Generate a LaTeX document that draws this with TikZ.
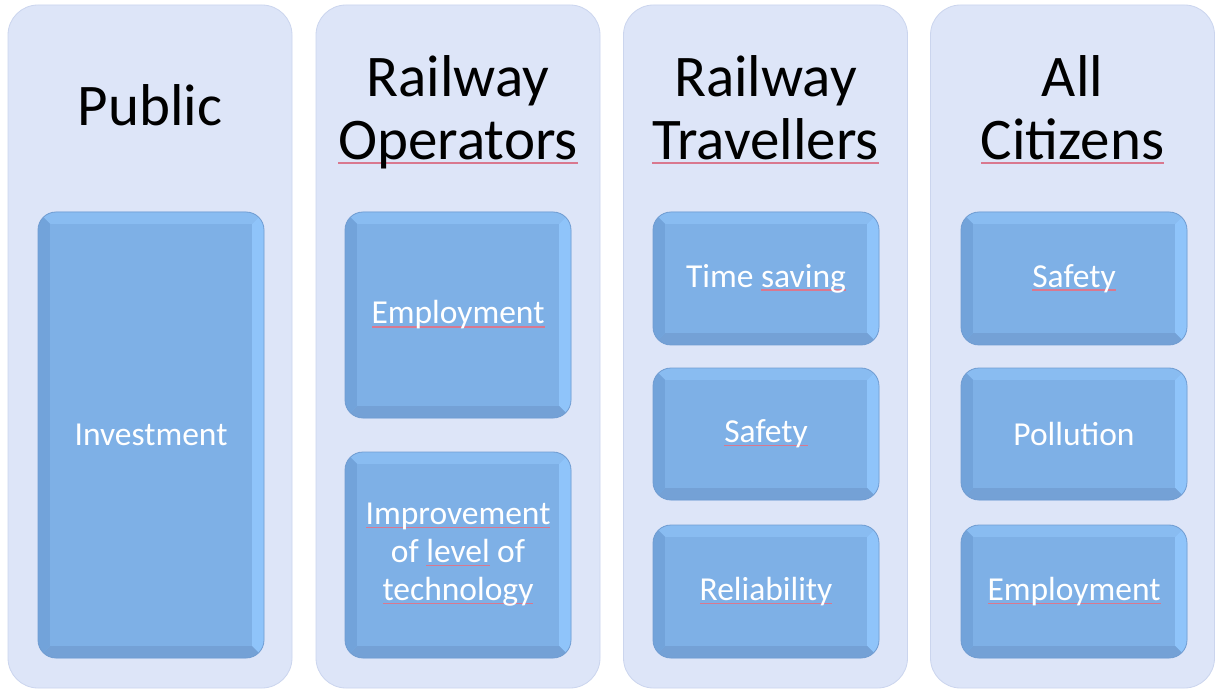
\documentclass[tikz,border=0pt]{standalone}
\usepackage{fontspec}
\setmainfont{Carlito}
\usetikzlibrary{calc}
\definecolor{outerfill}{HTML}{DDE5F8}
\definecolor{outerline}{HTML}{CBD5EE}
\definecolor{itemfill}{HTML}{7EB0E6}
\definecolor{itemline}{HTML}{719DD2}
\definecolor{bevtop}{HTML}{89BCF1}
\definecolor{bevright}{HTML}{8FC4FA}
\definecolor{bevbottom}{HTML}{74A1D6}
\definecolor{bevleft}{HTML}{72A3DA}
\makeatletter
\newcommand\mysq[1]{\setbox0\hbox{#1}%
  \edef\sqw{\strip@pt\dimexpr\wd0*7200/7227\relax}%
  \special{pdf:content 0.85 0.47 0.56 rg 0 -3.6 \sqw\space 1.5 re f}\box0\relax}
\makeatother
\tikzset{
  colbox/.style={fill=outerfill, draw=outerline, line width=0.8pt, rounded corners=30pt,
    minimum width=284pt, minimum height=683pt, inner sep=0pt},
  title/.style={font=\fontsize{59}{63}\selectfont, align=center, text=black, inner sep=0pt},
  itembox/.style={fill=itemfill, draw=itemline, line width=0.8pt, rounded corners=18pt,
    minimum width=226pt, inner sep=0pt, text=white, font=\fontsize{33.5}{38}\selectfont, align=center,
    path picture={
      \fill[bevtop, sharp corners] (path picture bounding box.north west) -- (path picture bounding box.north east)
        -- ++(-12pt,-12pt) -- ($(path picture bounding box.north west)+(12pt,-12pt)$) -- cycle;
      \fill[bevright, sharp corners] (path picture bounding box.north east) -- (path picture bounding box.south east)
        -- ++(-12pt,12pt) -- ($(path picture bounding box.north east)+(-12pt,-12pt)$) -- cycle;
      \fill[bevbottom, sharp corners] (path picture bounding box.south east) -- (path picture bounding box.south west)
        -- ++(12pt,12pt) -- ($(path picture bounding box.south east)+(-12pt,12pt)$) -- cycle;
      \fill[bevleft, sharp corners] (path picture bounding box.south west) -- (path picture bounding box.north west)
        -- ++(12pt,-12pt) -- ($(path picture bounding box.south west)+(12pt,12pt)$) -- cycle;
      \fill[itemfill, sharp corners] ($(path picture bounding box.south west)+(12pt,12pt)$) rectangle
        ($(path picture bounding box.north east)+(-12pt,-12pt)$);
    }},
}
\begin{document}
\begin{tikzpicture}[x=1pt,y=1pt]
\useasboundingbox (0,0) rectangle (1215,689);
\fill[white] (0,0) rectangle (1215,689);
% columns
\node[colbox] (c1) at (150,342.5) {};
\node[colbox] (c2) at (458,342.5) {};
\node[colbox] (c3) at (765.5,342.5) {};
\node[colbox] (c4) at (1072.5,342.5) {};
% titles
\node[title, anchor=base] (t1) at (150,563) {Public};
\node[title, anchor=base] (t2) at (458,529) {Railway\\\mysq{Operators}};
\node[title, anchor=base] (t3) at (765.5,529) {Railway\\\mysq{Travellers}};
\node[title, anchor=base] (t4) at (1072.5,529) {All\\\mysq{Citizens}};
% items
\node[itembox, minimum height=446pt] (i1) at (151,254) {Investment};
\node[itembox, minimum height=206pt] (e2) at (458,374) {\mysq{Employment}};
\node[itembox, minimum height=206pt] (t2b) at (458,134) {\mysq{Improvement}\\of \mysq{level} of\\\mysq{technology}};
\node[itembox, minimum height=133pt] (ts) at (766,410.5) {Time \mysq{saving}};
\node[itembox, minimum height=132pt] (s3) at (766,255) {\mysq{Safety}};
\node[itembox, minimum height=133pt] (r3) at (766,97.5) {\mysq{Reliability}};
\node[itembox, minimum height=133pt] (s4) at (1074,410.5) {\mysq{Safety}};
\node[itembox, minimum height=132pt] (p4) at (1074,255) {Pollution};
\node[itembox, minimum height=133pt] (e4) at (1074,97.5) {\mysq{Employment}};
\end{tikzpicture}
\end{document}
